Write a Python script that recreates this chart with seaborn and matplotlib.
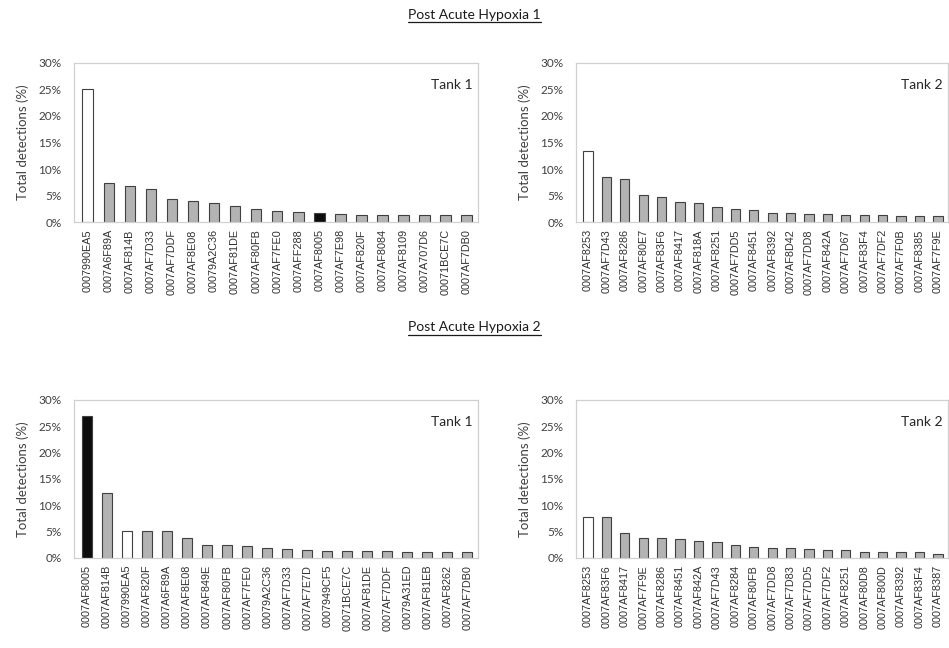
import matplotlib
matplotlib.use("Agg")
import matplotlib.pyplot as plt
import seaborn as sns
import pandas as pd
from matplotlib.lines import Line2D
from matplotlib.ticker import FuncFormatter

# Detection shares (% of total detections) per tagged fish, ranked within each tank
pah1_t1_ids = ["0007990EA5", "0007A6F89A", "0007AF814B", "0007AF7D33", "0007AF7DDF",
               "0007AF8E08", "00079A2C36", "0007AF81DE", "0007AF80FB", "0007AF7FE0",
               "0007AFF288", "0007AF8005", "0007AF7E98", "0007AF820F", "0007AF8084",
               "0007AF8109", "0007A707D6", "00071BCE7C", "0007AF7DB0"]
pah1_t1_pct = [25.0, 7.4, 6.9, 6.2, 4.4, 4.0, 3.7, 3.0, 2.5, 2.1,
               2.0, 1.7, 1.6, 1.45, 1.4, 1.4, 1.35, 1.3, 1.3]

pah1_t2_ids = ["0007AF8253", "0007AF7D43", "0007AF8286", "0007AF80E7", "0007AF83F6",
               "0007AF8417", "0007AF818A", "0007AF8251", "0007AF7DD5", "0007AF8451",
               "0007AF8392", "0007AF8D42", "0007AF7DD8", "0007AF842A", "0007AF7D67",
               "0007AF83F4", "0007AF7DF2", "0007AF7F0B", "0007AF8385", "0007AF7F9E"]
pah1_t2_pct = [13.5, 8.6, 8.2, 5.1, 4.7, 3.8, 3.6, 2.8, 2.5, 2.3,
               1.8, 1.7, 1.6, 1.5, 1.45, 1.45, 1.3, 1.2, 1.1, 1.1]

pah2_t1_ids = ["0007AF8005", "0007AF814B", "0007990EA5", "0007AF820F", "0007A6F89A",
               "0007AF8E08", "0007AF849E", "0007AF80FB", "0007AF7FE0", "00079A2C36",
               "0007AF7D33", "0007AF7E7D", "0007949CF5", "00071BCE7C", "0007AF81DE",
               "0007AF7DDF", "00079A31ED", "0007AF81EB", "0007AF8262", "0007AF7DB0"]
pah2_t1_pct = [27.0, 12.4, 5.2, 5.2, 5.2, 3.7, 2.5, 2.5, 2.2, 1.8,
               1.6, 1.5, 1.4, 1.4, 1.4, 1.3, 1.2, 1.15, 1.1, 1.1]

pah2_t2_ids = ["0007AF8253", "0007AF83F6", "0007AF8417", "0007AF7F9E", "0007AF8286",
               "0007AF8451", "0007AF842A", "0007AF7D43", "0007AF8284", "0007AF80FB",
               "0007AF7DD8", "0007AF7D83", "0007AF7DD5", "0007AF7DF2", "0007AF8251",
               "0007AF80D8", "0007AF800D", "0007AF8392", "0007AF83F4", "0007AF8387"]
pah2_t2_pct = [7.8, 7.8, 4.7, 3.8, 3.7, 3.6, 3.2, 3.0, 2.5, 2.1,
               1.8, 1.8, 1.7, 1.45, 1.45, 1.2, 1.1, 1.1, 1.1, 0.7]

# Fish drawn with a distinct fill
white_ids = ["0007990EA5", "0007AF8253"]
black_ids = ["0007AF8005"]

section_titles = ["Post Acute Hypoxia 1", "Post Acute Hypoxia 2"]
tank_labels = ["Tank 1", "Tank 2"]
y_ticks = [0, 5, 10, 15, 20, 25, 30]

panels = [
    (pah1_t1_ids, pah1_t1_pct, tank_labels[0], [0.078, 0.657, 0.426, 0.246]),
    (pah1_t2_ids, pah1_t2_pct, tank_labels[1], [0.607, 0.657, 0.392, 0.246]),
    (pah2_t1_ids, pah2_t1_pct, tank_labels[0], [0.078, 0.139, 0.426, 0.244]),
    (pah2_t2_ids, pah2_t2_pct, tank_labels[1], [0.607, 0.139, 0.392, 0.244]),
]

sns.set_theme(style="white")
plt.rcParams["font.family"] = ["Lato", "DejaVu Sans"]

fig = plt.figure(figsize=(9.49, 6.48), dpi=100)
fig.patch.set_facecolor("white")


def fill_for(fid):
    if fid in black_ids:
        return "#0d0d0d"
    if fid in white_ids:
        return "#ffffff"
    return "#b3b3b3"


for ids, pct, tank, rect in panels:
    ax = fig.add_axes(rect)
    df = pd.DataFrame({"fish": ids, "pct": pct})
    palette = {f: fill_for(f) for f in ids}
    sns.barplot(data=df, x="fish", y="pct", hue="fish", palette=palette,
                dodge=False, legend=False, width=0.5, saturation=1,
                edgecolor="#404040", linewidth=0.8, ax=ax)
    ax.set_ylim(0, 30)
    ax.set_xlim(-0.65, len(ids) - 0.45)
    ax.set_yticks(y_ticks)
    ax.yaxis.set_major_formatter(FuncFormatter(lambda v, _: f"{int(v)}%"))
    ax.tick_params(axis="y", labelsize=8.5, colors="#404040", length=0, pad=9)
    ax.tick_params(axis="x", labelsize=7.8, colors="#303030", length=0,
                   rotation=90, pad=5)
    for lab in ax.get_xticklabels():
        lab.set_family(["Liberation Sans", "DejaVu Sans"])
    ax.set_xlabel("")
    ax.set_ylabel("Total detections (%)", fontsize=9.5, color="#404040", labelpad=7)
    for sp in ax.spines.values():
        sp.set_color("#d0d0d0")
        sp.set_linewidth(0.9)
    ax.text(0.985, 0.86, tank, transform=ax.transAxes, ha="right", va="center",
            fontsize=10, color="#262626")

# Section headings, underlined
fig.canvas.draw()
renderer = fig.canvas.get_renderer()
for title, ypos in zip(section_titles, [0.977, 0.495]):
    t = fig.text(0.5, ypos, title, ha="center", va="center", fontsize=10,
                 color="#1a1a1a")
    bb = t.get_window_extent(renderer=renderer).transformed(fig.transFigure.inverted())
    uy = bb.y0 - 0.002
    fig.add_artist(Line2D([bb.x0, bb.x1], [uy, uy], transform=fig.transFigure,
                          color="#1a1a1a", linewidth=0.9))

fig.savefig("out.png", dpi=100, facecolor="white")
